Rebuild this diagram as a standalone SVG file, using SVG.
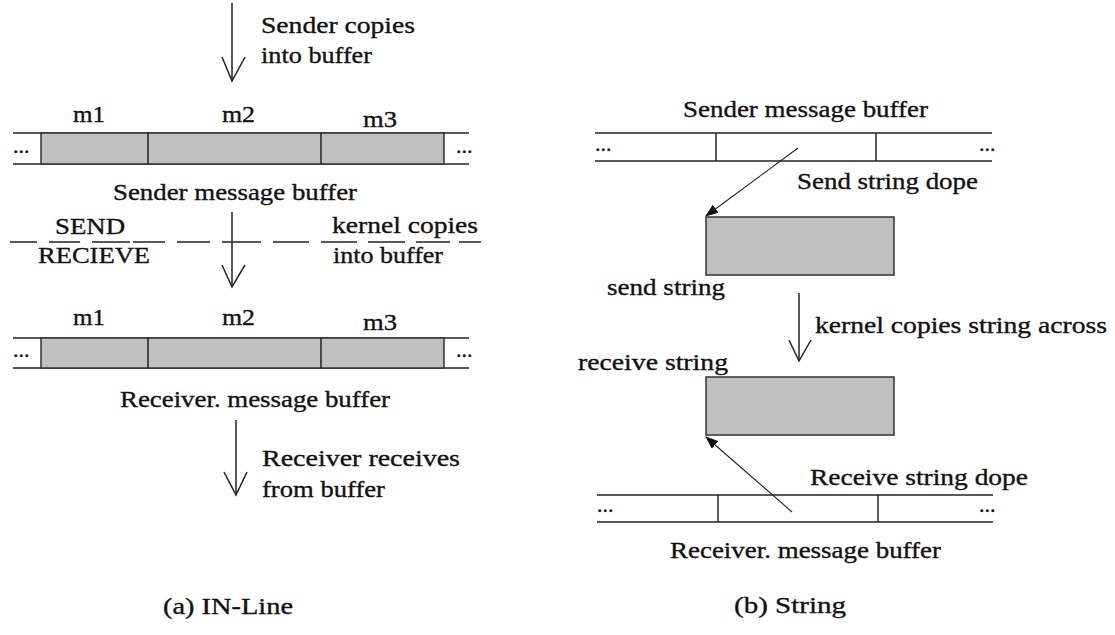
<svg xmlns="http://www.w3.org/2000/svg" width="1115" height="635" viewBox="0 0 1115 635">
  <style>
    text { font-family: 'Liberation Serif', 'Times New Roman', Times, serif; }
    .t { font-size: 24px; fill: #111; stroke: #111; stroke-width: 0.35; }
    .dots { font-size: 22px; fill: #111; stroke: #111; stroke-width: 0.4; }
    .ln { stroke: #222; stroke-width: 1.5; fill: none; }
    .thin { stroke: #222; stroke-width: 1.1; fill: none; }
    .cell { fill: #c0c0c0; stroke: #333; stroke-width: 1.5; }
    .dash { stroke: #222; stroke-width: 1.5; }
  </style>
  <defs>
    <marker id="solidHead" markerWidth="13" markerHeight="10" refX="12" refY="5" orient="auto" markerUnits="userSpaceOnUse">
      <path d="M0,0 L13,5 L0,10 Z" fill="#111"/>
    </marker>
  </defs>
  <rect width="1115" height="635" fill="#fff"/>

  <!-- (a) IN-Line -->
  <g id="inline-sender-buffer">
    <line class="ln" x1="13" y1="133" x2="469" y2="133"/>
    <line class="ln" x1="13" y1="164" x2="469" y2="164"/>
    <rect class="cell" x="41" y="133" width="403" height="31"/>
    <line class="ln" x1="148" y1="133" x2="148" y2="164"/>
    <line class="ln" x1="321" y1="133" x2="321" y2="164"/>
    <text class="dots" x="13" y="153">...</text>
    <text class="dots" x="456" y="153">...</text>
    <text class="t" x="73" y="122" textLength="32" lengthAdjust="spacingAndGlyphs">m1</text>
    <text class="t" x="222" y="122" textLength="33" lengthAdjust="spacingAndGlyphs">m2</text>
    <text class="t" x="363" y="127" textLength="34" lengthAdjust="spacingAndGlyphs">m3</text>
    <text class="t" x="113" y="200" textLength="244" lengthAdjust="spacingAndGlyphs">Sender message buffer</text>
  </g>

  <g id="boundary">
    <g class="dash">
      <line x1="10" y1="242" x2="37" y2="242"/>
      <line x1="49" y1="242" x2="80" y2="242"/>
      <line x1="92" y1="242" x2="130" y2="242"/>
      <line x1="133" y1="242" x2="165" y2="242"/>
      <line x1="177" y1="242" x2="210" y2="242"/>
      <line x1="222" y1="242" x2="261" y2="242"/>
      <line x1="273" y1="242" x2="309" y2="242"/>
      <line x1="321" y1="242" x2="357" y2="242"/>
      <line x1="368" y1="242" x2="405" y2="242"/>
      <line x1="416" y1="242" x2="450" y2="242"/>
      <line x1="459" y1="242" x2="481" y2="242"/>
    </g>
    <text class="t" x="55" y="234" textLength="70" lengthAdjust="spacingAndGlyphs">SEND</text>
    <text class="t" x="38" y="263" textLength="112" lengthAdjust="spacingAndGlyphs">RECIEVE</text>
  </g>

  <g id="inline-receiver-buffer">
    <line class="ln" x1="13" y1="338" x2="469" y2="338"/>
    <line class="ln" x1="13" y1="368" x2="469" y2="368"/>
    <rect class="cell" x="41" y="338" width="403" height="30"/>
    <line class="ln" x1="148" y1="338" x2="148" y2="368"/>
    <line class="ln" x1="321" y1="338" x2="321" y2="368"/>
    <text class="dots" x="13" y="357">...</text>
    <text class="dots" x="456" y="357">...</text>
    <text class="t" x="73" y="325" textLength="32" lengthAdjust="spacingAndGlyphs">m1</text>
    <text class="t" x="222" y="325" textLength="33" lengthAdjust="spacingAndGlyphs">m2</text>
    <text class="t" x="363" y="330" textLength="34" lengthAdjust="spacingAndGlyphs">m3</text>
    <text class="t" x="120" y="407" textLength="270" lengthAdjust="spacingAndGlyphs">Receiver. message buffer</text>
  </g>

  <text id="caption-a" class="t" x="163" y="614" textLength="130" lengthAdjust="spacingAndGlyphs">(a)  IN-Line</text>

  <!-- (b) String -->
  <g id="string-sender-buffer">
    <line class="ln" x1="595" y1="133" x2="992" y2="133"/>
    <line class="ln" x1="595" y1="161" x2="992" y2="161"/>
    <line class="ln" x1="716" y1="133" x2="716" y2="161"/>
    <line class="ln" x1="876" y1="133" x2="876" y2="161"/>
    <text class="dots" x="595" y="151">...</text>
    <text class="dots" x="979" y="151">...</text>
    <text class="t" x="683" y="117" textLength="245" lengthAdjust="spacingAndGlyphs">Sender message buffer</text>
  </g>

  <g id="send-string">
    <rect class="cell" x="706" y="217" width="188" height="58"/>
    <text class="t" x="607" y="295" textLength="118" lengthAdjust="spacingAndGlyphs">send string</text>
  </g>

  <g id="receive-string">
    <rect class="cell" x="706" y="377" width="188" height="58"/>
    <text class="t" x="578" y="370" textLength="150" lengthAdjust="spacingAndGlyphs">receive string</text>
  </g>

  <g id="string-receiver-buffer">
    <line class="ln" x1="597" y1="495" x2="993" y2="495"/>
    <line class="ln" x1="597" y1="522" x2="993" y2="522"/>
    <line class="ln" x1="718" y1="495" x2="718" y2="522"/>
    <line class="ln" x1="878" y1="495" x2="878" y2="522"/>
    <text class="dots" x="597" y="512">...</text>
    <text class="dots" x="979" y="512">...</text>
    <text class="t" x="670" y="558" textLength="271" lengthAdjust="spacingAndGlyphs">Receiver. message buffer</text>
  </g>

  <text id="caption-b" class="t" x="734" y="613" textLength="112" lengthAdjust="spacingAndGlyphs">(b)  String</text>

  <!-- connectors -->
  <g id="connectors">
    <g id="sender-copies">
      <line class="ln" x1="232" y1="3" x2="232" y2="81"/>
      <polyline class="ln" points="222,57 232,81 245,57"/>
      <text class="t" x="261" y="33" textLength="154" lengthAdjust="spacingAndGlyphs">Sender copies</text>
      <text class="t" x="261" y="63" textLength="111" lengthAdjust="spacingAndGlyphs">into buffer</text>
    </g>
    <g id="kernel-copies">
      <line class="ln" x1="232" y1="212" x2="232" y2="287"/>
      <polyline class="ln" points="222,265 232,287 245,265"/>
      <text class="t" x="332" y="233" textLength="146" lengthAdjust="spacingAndGlyphs">kernel copies</text>
      <text class="t" x="333" y="263" textLength="110" lengthAdjust="spacingAndGlyphs">into buffer</text>
    </g>
    <g id="receiver-receives">
      <line class="ln" x1="236" y1="420" x2="236" y2="495"/>
      <polyline class="ln" points="224,472 236,495 247,472"/>
      <text class="t" x="262" y="466" textLength="198" lengthAdjust="spacingAndGlyphs">Receiver receives</text>
      <text class="t" x="262" y="497" textLength="123" lengthAdjust="spacingAndGlyphs">from buffer</text>
    </g>
    <g id="send-dope">
      <line class="thin" x1="798" y1="148" x2="706" y2="216" marker-end="url(#solidHead)"/>
      <text class="t" x="797" y="189" textLength="181" lengthAdjust="spacingAndGlyphs">Send string dope</text>
    </g>
    <g id="string-across">
      <line class="ln" x1="799" y1="293" x2="799" y2="361"/>
      <polyline class="ln" points="789,340 799,361 811,340"/>
      <text class="t" x="815" y="333" textLength="292" lengthAdjust="spacingAndGlyphs">kernel copies string across</text>
    </g>
    <g id="receive-dope">
      <line class="thin" x1="792" y1="512" x2="706" y2="437" marker-end="url(#solidHead)"/>
      <text class="t" x="810" y="485" textLength="218" lengthAdjust="spacingAndGlyphs">Receive string dope</text>
    </g>
  </g>
</svg>
